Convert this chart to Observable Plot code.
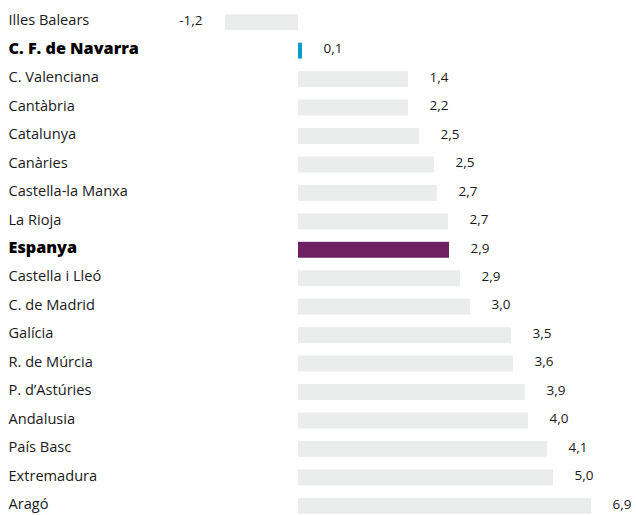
<!DOCTYPE html>
<html><head><meta charset="utf-8">
<script src="https://cdn.jsdelivr.net/npm/d3@7"></script>
<script src="https://cdn.jsdelivr.net/npm/@observablehq/plot@0.6"></script>
<style>html,body{margin:0;padding:0;background:#fff;overflow:hidden}</style>
</head><body><div id="chart"></div>
<script>
// Regions, top to bottom
const regions = ["Illes Balears","C. F. de Navarra","C. Valenciana","Cantàbria","Catalunya","Canàries","Castella-la Manxa","La Rioja","Espanya","Castella i Lleó","C. de Madrid","Galícia","R. de Múrcia","P. d’Astúries","Andalusia","País Basc","Extremadura","Aragó"];
// Printed values
const labelValues = [-1.2,0.1,1.4,2.2,2.5,2.5,2.7,2.7,2.9,2.9,3.0,3.5,3.6,3.9,4.0,4.1,5.0,6.9];
// Bar lengths as drawn in the picture (same units)
const barLengths = [-1.46,0.08,2.2,2.2,2.42,2.72,2.78,3.0,3.02,3.24,3.44,4.26,4.3,4.54,4.6,4.98,5.1,5.86];
const boldRegions = ["C. F. de Navarra","Espanya"];
const highlightColors = {"C. F. de Navarra":"#0a9fcb","Espanya":"#6e2063"};
const baseColor = "#ebecec";

const data = regions.map((r,i)=>({region:r, value:labelValues[i], bar:barLengths[i]}));
const fmt = v => v.toFixed(1).replace(".", ",");
const isBold = d => boldRegions.includes(d.region);

const chart = Plot.plot({
  width:636, height:520, marginTop:8, marginBottom:0, marginLeft:0, marginRight:0,
  x:{domain:[-5.96,6.76], axis:null},
  y:{domain:regions, axis:null, paddingInner:0.44, paddingOuter:0.22, round:false},
  style:{fontFamily:"'Open Sans', sans-serif", background:"#fff"},
  marks:[
    Plot.barX(data.filter(d=>!highlightColors[d.region]), {x:"bar", y:"region", fill:baseColor}),
    Plot.barX(data.filter(d=>highlightColors[d.region]), {x:"bar", y:"region", fill:d=>highlightColors[d.region]}),
    Plot.text(data.filter(d=>!isBold(d)), {y:"region", text:"region", frameAnchor:"left", dx:8, dy:-2, textAnchor:"start", fontSize:14.6, fill:"#1a1a1a"}),
    Plot.text(data.filter(isBold), {y:"region", text:"region", frameAnchor:"left", dx:8, dy:-2, textAnchor:"start", fontSize:16.2, fontWeight:900, fill:"#000"}),
    Plot.text(data.filter(d=>d.bar>=0), {x:"bar", y:"region", text:d=>fmt(d.value), dx:21, dy:-2, textAnchor:"start", fontSize:13.5, fill:"#1a1a1a"}),
    Plot.text(data.filter(d=>d.bar<0), {x:"bar", y:"region", text:d=>fmt(d.value), dx:-23, dy:-2, textAnchor:"end", fontSize:13.5, fill:"#1a1a1a"})
  ]
});
document.getElementById("chart").append(chart);
</script>
</body></html>
